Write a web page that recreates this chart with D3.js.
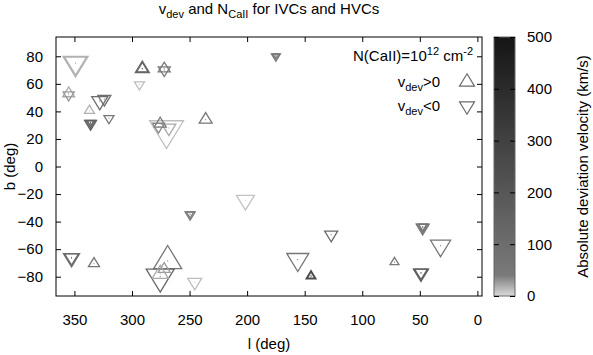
<!DOCTYPE html>
<html>
<head>
<meta charset="utf-8">
<script src="https://cdn.jsdelivr.net/npm/d3@7"></script>
<style>
  body { margin: 0; background: #fff; }
  text { font-family: "Liberation Sans", Arial, sans-serif; fill: #000; }
</style>
</head>
<body>
<svg id="chart" width="593" height="355"></svg>
<script>
// galactic longitude / latitude of each sightline (deg)
const lon = [349, 349, 355, 355, 337, 336, 336, 336, 328, 324, 320, 291, 291, 293.5, 272, 272,
             270, 275.5, 277, 268, 236, 175, 175,
             352.5, 352.5, 333, 249.5, 249.5, 201.5, 269, 275.5, 275.5, 272, 245.5,
             156, 144.5, 144.5, 127, 72, 47.5, 47.5, 47.5, 32, 49, 49];
const lat = [75, 75, 53, 52, 40.5, 31, 31.5, 32, 47.5, 49, 35, 71, 71, 59.5, 71, 70,
             26.5, 31, 29, 28, 34, 80, 80.5,
             -66.5, -66, -70.5, -35, -34.5, -24.5, -68.5, -80, -78, -74.5, -84,
             -67.5, -79.5, -79.5, -49.5, -69.5, -44.5, -44, -43.5, -57.5, -77.5, -77];
// N(CaII) in units of 1e12 cm^-2
const nCa = [2.8, 2.15, 0.64, 0.55, 0.45, 0.64, 0.4, 0.2, 1.14, 0.75, 0.45, 0.87, 0.6, 0.45, 0.64, 0.64,
             5.1, 0.64, 0.64, 0.87, 0.75, 0.36, 0.15,
             1.14, 0.9, 0.55, 0.45, 0.25, 1.44, 3.5, 3.5, 1.14, 0.64, 0.87,
             2.15, 0.44, 0.25, 0.75, 0.36, 0.75, 0.5, 0.3, 1.8, 1.0, 0.75];
// deviation velocity (km/s); sign gives the marker direction
const vdev = [-17, -17, 20, -27, 17, -150, -150, -150, -100, -100, -60, 130, 130, -12, 40, -40,
              -12, 60, -35, -20, 60, -70, -70,
              -110, -110, 60, -40, -40, -10, 60, -130, 20, 25, -12,
              -60, 250, 250, -110, 40, -60, -60, -60, -60, -170, -170];

const xTicks = [350, 300, 250, 200, 150, 100, 50, 0];
const yTicks = [-80, -60, -40, -20, 0, 20, 40, 60, 80];
const cbTicks = [0, 100, 200, 300, 400, 500];

const svg = d3.select('#chart');
const pl = 56, pr = 482, pt = 37, pb = 296;

const x = d3.scaleLinear().domain([366, -4]).range([pl, pr]);
const y = d3.scaleLinear().domain([-94, 94]).range([pb, pt]);
const size = d3.scaleSqrt().domain([0, 1]).range([0, 15]);
const gray = d3.scaleLinear().domain([0, 40, 500])
    .range(['#dadada', '#7a7a7a', '#151515']);

const points = lon.map(function(l, i) {
    return {l: l, b: lat[i], n: nCa[i], v: vdev[i]};
});

// triangle centred on its centroid; up for v>0, down for v<0
function tri(w, up) {
    const h = 0.82 * w, s = up ? 1 : -1;
    return 'M0,' + (-s * 2 * h / 3) + 'L' + (w / 2) + ',' + (s * h / 3) +
        'L' + (-w / 2) + ',' + (s * h / 3) + 'Z';
}

// markers
const marks = svg.append('g').selectAll('g')
    .data(points.slice().sort(function(a, b) { return b.n - a.n; }))
    .join('g')
        .attr('transform', function(d) { return 'translate(' + x(d.l) + ',' + y(d.b) + ')'; });
marks.append('path')
    .attr('d', function(d) { return tri(size(d.n), d.v > 0); })
    .attr('fill', 'none')
    .attr('stroke', function(d) { return gray(Math.abs(d.v)); })
    .attr('stroke-width', 1.3);
marks.append('rect')
    .attr('x', -0.5).attr('y', -0.5).attr('width', 1).attr('height', 1)
    .attr('fill', function(d) { return gray(Math.abs(d.v)); });

// axes, ticks pointing inwards and mirrored
svg.append('g').attr('transform', 'translate(0,' + pb + ')')
    .call(d3.axisBottom(x).tickValues(xTicks).tickSize(-5).tickPadding(18));
svg.append('g').attr('transform', 'translate(0,' + pt + ')')
    .call(d3.axisTop(x).tickValues(xTicks).tickSize(-5).tickFormat(''));
svg.append('g').attr('transform', 'translate(' + pl + ',0)')
    .call(d3.axisLeft(y).tickValues(yTicks).tickSize(-5).tickPadding(13));
svg.append('g').attr('transform', 'translate(' + pr + ',0)')
    .call(d3.axisRight(y).tickValues(yTicks).tickSize(-5).tickFormat(''));
svg.selectAll('.domain').remove();
svg.selectAll('.tick text').attr('font-size', 15).attr('font-family', '"Liberation Sans", Arial, sans-serif');

svg.append('rect')
    .attr('x', pl).attr('y', pt)
    .attr('width', pr - pl).attr('height', pb - pt)
    .attr('fill', 'none').attr('stroke', '#000');

// labels
svg.append('text')
    .attr('x', (pl + pr) / 2).attr('y', 349)
    .attr('text-anchor', 'middle').attr('font-size', 15)
    .text('l (deg)');
svg.append('text')
    .attr('transform', 'translate(15,' + (pt + pb) / 2 + ') rotate(-90)')
    .attr('text-anchor', 'middle').attr('font-size', 15)
    .text('b (deg)');

const title = svg.append('text')
    .attr('x', (pl + pr) / 2).attr('y', 14)
    .attr('text-anchor', 'middle').attr('font-size', 15);
title.append('tspan').text('v');
title.append('tspan').attr('font-size', 11).attr('dy', 4).text('dev');
title.append('tspan').attr('dy', -4).text(' and N');
title.append('tspan').attr('font-size', 11).attr('dy', 4).text('CaII');
title.append('tspan').attr('dy', -4).text(' for IVCs and HVCs');

// legend
const leg = svg.append('g');
const t1 = leg.append('text').attr('x', 473).attr('y', 61)
    .attr('text-anchor', 'end').attr('font-size', 15);
t1.append('tspan').text('N(CaII)=10');
t1.append('tspan').attr('font-size', 11).attr('dy', -6).text('12');
t1.append('tspan').attr('dy', 6).text(' cm');
t1.append('tspan').attr('font-size', 11).attr('dy', -6).text('-2');

[{lab: '>0', up: true, ty: 87}, {lab: '<0', up: false, ty: 111}].forEach(function(e) {
    const t = leg.append('text').attr('x', 440).attr('y', e.ty)
        .attr('text-anchor', 'end').attr('font-size', 15);
    t.append('tspan').text('v');
    t.append('tspan').attr('font-size', 11).attr('dy', 4).text('dev');
    t.append('tspan').attr('dy', -4).text(e.lab);
    leg.append('path')
        .attr('transform', 'translate(467,' + (e.ty - 5) + ')')
        .attr('d', tri(size(1), e.up))
        .attr('fill', 'none').attr('stroke', '#6a6a6a').attr('stroke-width', 1.2);
});

// colour box
const cbx = 494, cbw = 21;
const cy = d3.scaleLinear().domain([0, 500]).range([pb, pt]);
const grad = svg.append('defs').append('linearGradient')
    .attr('id', 'cb').attr('x1', 0).attr('y1', 1).attr('x2', 0).attr('y2', 0);
d3.range(0, 501, 10).forEach(function(v) {
    grad.append('stop').attr('offset', v / 500).attr('stop-color', gray(v));
});
svg.append('rect')
    .attr('x', cbx).attr('y', pt).attr('width', cbw).attr('height', pb - pt)
    .attr('fill', 'url(#cb)').attr('stroke', '#666').attr('stroke-width', 1);
const cbAxis = svg.append('g').attr('transform', 'translate(' + (cbx + cbw) + ',0)')
    .call(d3.axisRight(cy).tickValues(cbTicks).tickSize(-5).tickPadding(12));
svg.append('g').attr('transform', 'translate(' + cbx + ',0)')
    .call(d3.axisLeft(cy).tickValues(cbTicks).tickSize(-5).tickFormat(''));
svg.selectAll('.domain').remove();
cbAxis.selectAll('text').attr('font-size', 15).attr('font-family', '"Liberation Sans", Arial, sans-serif');
svg.append('text')
    .attr('transform', 'translate(588,' + (pt + pb) / 2 + ') rotate(-90)')
    .attr('text-anchor', 'middle').attr('font-size', 15)
    .text('Absolute deviation velocity (km/s)');
</script>
</body>
</html>
